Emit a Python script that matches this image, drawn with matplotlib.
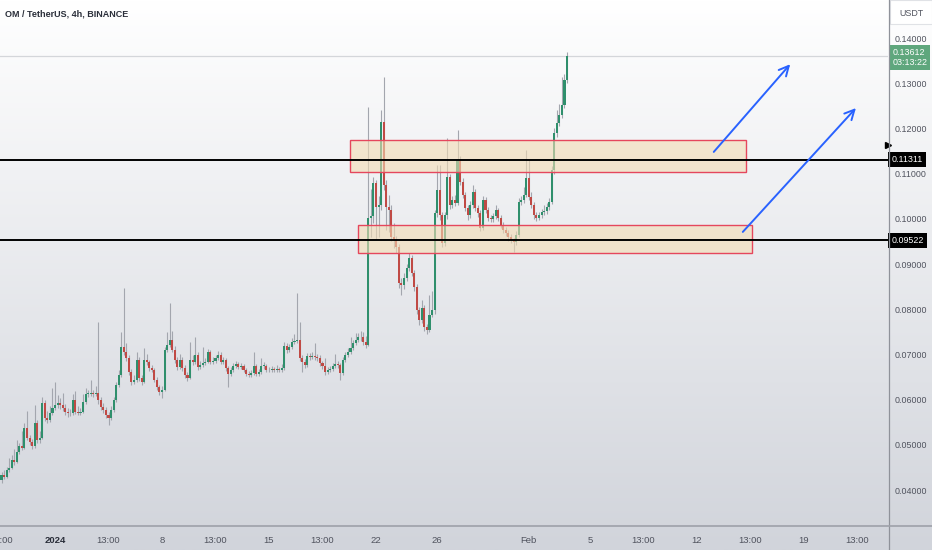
import numpy as np
import pandas as pd
import matplotlib
matplotlib.use('Agg')
import matplotlib.pyplot as plt
from matplotlib.patches import Rectangle
from matplotlib.lines import Line2D
from matplotlib.colors import LinearSegmentedColormap
import matplotlib.transforms as mtransforms

plt.rcParams['font.family'] = ['Liberation Sans Narrow', 'Liberation Sans', 'DejaVu Sans']

# OM/USDT 4h candles, first one opens 2023-12-28 12:00
first_open = 0.0422
closes = [
    0.0433, 0.0429, 0.0444,
    0.0449, 0.0466, 0.0462, 0.0484, 0.0497, 0.0493,
    0.0537, 0.0515, 0.0506, 0.0497, 0.0548, 0.0511,
    0.0515, 0.0593, 0.0559, 0.0555, 0.0570, 0.0581,
    0.0588, 0.0593, 0.0588, 0.0581, 0.0573, 0.0570,
    0.0570, 0.0599, 0.0573, 0.0570, 0.0573, 0.0595,
    0.0613, 0.0613, 0.0615, 0.0613, 0.0615, 0.0599,
    0.0584, 0.0577, 0.0566, 0.0559, 0.0577, 0.0599,
    0.0632, 0.0654, 0.0716, 0.0705, 0.0692, 0.0661,
    0.0639, 0.0643, 0.0688, 0.0648, 0.0639, 0.0688,
    0.0683, 0.0670, 0.0665, 0.0643, 0.0628, 0.0617,
    0.0621, 0.0710, 0.0721, 0.0732, 0.0710, 0.0688,
    0.0672, 0.0688, 0.0670, 0.0654, 0.0648, 0.0688,
    0.0683, 0.0699, 0.0672, 0.0677, 0.0681, 0.0683,
    0.0705, 0.0683, 0.0686, 0.0692, 0.0699, 0.0683,
    0.0688, 0.0670, 0.0657, 0.0665, 0.0674, 0.0679,
    0.0672, 0.0674, 0.0665, 0.0657, 0.0654, 0.0659,
    0.0674, 0.0657, 0.0661, 0.0674, 0.0674, 0.0665,
    0.0665, 0.0668, 0.0665, 0.0668, 0.0665, 0.0670,
    0.0719, 0.0710, 0.0716, 0.0727, 0.0730, 0.0732,
    0.0692, 0.0683, 0.0677, 0.0696, 0.0694, 0.0696,
    0.0694, 0.0692, 0.0681, 0.0674, 0.0661, 0.0665,
    0.0668, 0.0674, 0.0679, 0.0677, 0.0659, 0.0688,
    0.0699, 0.0705, 0.0714, 0.0725, 0.0732, 0.0738,
    0.0738, 0.0727, 0.0721, 0.1002, 0.1006, 0.1079,
    0.1026, 0.1031, 0.1214, 0.1075, 0.1026, 0.1020,
    0.0960, 0.0953, 0.0938, 0.0858, 0.0853, 0.0869,
    0.0891, 0.0913, 0.0880, 0.0849, 0.0798, 0.0776,
    0.0803, 0.0760, 0.0754, 0.0787, 0.0798, 0.1013,
    0.1064, 0.1008, 0.0947, 0.1008, 0.1092, 0.1031,
    0.1042, 0.1035, 0.1130, 0.1081, 0.1053, 0.1024,
    0.1008, 0.1031, 0.1060, 0.1024, 0.1013, 0.0980,
    0.1042, 0.1020, 0.1002, 0.0999, 0.1006, 0.1020,
    0.1002, 0.0986, 0.0975, 0.0969, 0.0960, 0.0953,
    0.0949, 0.0964, 0.1037, 0.1042, 0.1053, 0.1090,
    0.1049, 0.1031, 0.1008, 0.1002, 0.1008, 0.1015,
    0.1017, 0.1026, 0.1037, 0.1108, 0.1189, 0.1212,
    0.1229, 0.1252, 0.1307, 0.13612,
]
highs = [
    0.0440, 0.0445, 0.0452,
    0.0470, 0.0478, 0.0490, 0.0510, 0.0505, 0.0530,
    0.0548, 0.0575, 0.0522, 0.0512, 0.0588, 0.0555,
    0.0530, 0.0606, 0.0600, 0.0575, 0.0585, 0.0626,
    0.0640, 0.0610, 0.0603, 0.0615, 0.0590, 0.0582,
    0.0580, 0.0612, 0.0620, 0.0585, 0.0582, 0.0612,
    0.0625, 0.0622, 0.0643, 0.0622, 0.0630, 0.0772,
    0.0605, 0.0592, 0.0583, 0.0572, 0.0585, 0.0606,
    0.0640, 0.0665, 0.0750, 0.0847, 0.0725, 0.0698,
    0.0668, 0.0655, 0.0705, 0.0695, 0.0654, 0.0714,
    0.0700, 0.0688, 0.0676, 0.0670, 0.0650, 0.0633,
    0.0630, 0.0716, 0.0750, 0.0814, 0.0752, 0.0718,
    0.0695, 0.0700, 0.0694, 0.0676, 0.0660, 0.0727,
    0.0698, 0.0739, 0.0705, 0.0686, 0.0716, 0.0692,
    0.0712, 0.0710, 0.0694, 0.0698, 0.0708, 0.0705,
    0.0694, 0.0692, 0.0675, 0.0672, 0.0682, 0.0686,
    0.0684, 0.0680, 0.0679, 0.0670, 0.0663, 0.0666,
    0.0705, 0.0679, 0.0668, 0.0692, 0.0683, 0.0678,
    0.0672, 0.0675, 0.0673, 0.0676, 0.0672, 0.0678,
    0.0727, 0.0725, 0.0724, 0.0736, 0.0745, 0.0836,
    0.0772, 0.0698, 0.0690, 0.0703, 0.0703, 0.0705,
    0.0725, 0.0700, 0.0698, 0.0686, 0.0692, 0.0672,
    0.0674, 0.0680, 0.0700, 0.0685, 0.0682, 0.0695,
    0.0705, 0.0714, 0.0738, 0.0733, 0.0748, 0.0748,
    0.0752, 0.0750, 0.0740, 0.1247, 0.1065, 0.1092,
    0.1085, 0.1050, 0.1241, 0.1314, 0.1086, 0.1053,
    0.1030, 0.0990, 0.0962, 0.0945, 0.0870, 0.0880,
    0.0900, 0.0925, 0.0920, 0.0887, 0.0855, 0.0805,
    0.0820, 0.0810, 0.0768, 0.0832, 0.0840, 0.1020,
    0.1118, 0.1120, 0.1015, 0.1015, 0.1178, 0.1100,
    0.1050, 0.1052, 0.1196, 0.1140, 0.1090, 0.1060,
    0.1030, 0.1040, 0.1075, 0.1066, 0.1030, 0.1020,
    0.1050, 0.1048, 0.1026, 0.1008, 0.1013, 0.1030,
    0.1025, 0.1008, 0.0992, 0.0982, 0.0975, 0.0966,
    0.0958, 0.0972, 0.1045, 0.1050, 0.1070, 0.1152,
    0.1130, 0.1060, 0.1038, 0.1015, 0.1015, 0.1022,
    0.1030, 0.1035, 0.1046, 0.1116, 0.1200, 0.1240,
    0.1255, 0.1314, 0.1320, 0.1368,
]
lows = [
    0.0416, 0.0424, 0.0427,
    0.0440, 0.0446, 0.0455, 0.0460, 0.0480, 0.0488,
    0.0490, 0.0510, 0.0500, 0.0490, 0.0494, 0.0505,
    0.0505, 0.0512, 0.0552, 0.0548, 0.0550, 0.0566,
    0.0578, 0.0582, 0.0580, 0.0575, 0.0566, 0.0562,
    0.0563, 0.0566, 0.0568, 0.0565, 0.0566, 0.0570,
    0.0590, 0.0606, 0.0608, 0.0606, 0.0608, 0.0590,
    0.0578, 0.0570, 0.0560, 0.0544, 0.0555, 0.0572,
    0.0595, 0.0628, 0.0650, 0.0698, 0.0685, 0.0655,
    0.0632, 0.0634, 0.0640, 0.0642, 0.0633, 0.0636,
    0.0676, 0.0664, 0.0660, 0.0638, 0.0622, 0.0610,
    0.0604, 0.0618, 0.0705, 0.0716, 0.0705, 0.0682,
    0.0666, 0.0668, 0.0664, 0.0648, 0.0642, 0.0645,
    0.0677, 0.0678, 0.0666, 0.0668, 0.0672, 0.0676,
    0.0680, 0.0678, 0.0678, 0.0680, 0.0688, 0.0678,
    0.0678, 0.0664, 0.0628, 0.0652, 0.0660, 0.0670,
    0.0667, 0.0668, 0.0660, 0.0652, 0.0649, 0.0650,
    0.0655, 0.0652, 0.0653, 0.0657, 0.0668, 0.0660,
    0.0660, 0.0661, 0.0660, 0.0661, 0.0660, 0.0661,
    0.0666, 0.0703, 0.0705, 0.0712, 0.0722, 0.0725,
    0.0686, 0.0660, 0.0670, 0.0672, 0.0688, 0.0689,
    0.0688, 0.0686, 0.0675, 0.0668, 0.0655, 0.0656,
    0.0660, 0.0663, 0.0669, 0.0670, 0.0643, 0.0655,
    0.0683, 0.0694, 0.0700, 0.0710, 0.0720, 0.0728,
    0.0730, 0.0721, 0.0715, 0.0718, 0.0960, 0.0990,
    0.0955, 0.0960, 0.1020, 0.1064, 0.0975, 0.0970,
    0.0950, 0.0935, 0.0925, 0.0848, 0.0832, 0.0845,
    0.0862, 0.0885, 0.0874, 0.0840, 0.0790, 0.0765,
    0.0770, 0.0752, 0.0745, 0.0750, 0.0782, 0.0790,
    0.1005, 0.0998, 0.0938, 0.0940, 0.1000, 0.1022,
    0.1025, 0.1028, 0.1030, 0.1075, 0.1045, 0.1018,
    0.0998, 0.1002, 0.1025, 0.1018, 0.1005, 0.0972,
    0.0975, 0.1012, 0.0995, 0.0992, 0.0994, 0.1000,
    0.0995, 0.0980, 0.0968, 0.0962, 0.0952, 0.0946,
    0.0926, 0.0942, 0.0960, 0.1030, 0.1035, 0.1048,
    0.1042, 0.1024, 0.1000, 0.0995, 0.0997, 0.1002,
    0.1008, 0.1010, 0.1020, 0.1032, 0.1100, 0.1180,
    0.1205, 0.1222, 0.1245, 0.1300,
]

# drawings: horizontal levels, supply/demand zones (days from Jan 1), arrows
levels = [0.11311, 0.09522]
zones = [(19.3, 45.2, 0.1104, 0.1174), (19.8, 45.6, 0.0924, 0.0986)]
arrows = [((43.1, 0.1148), (48.1, 0.1342)), ((45.0, 0.0971), (52.4, 0.1245))]
countdown = '03:13:22'
scale_marker = 0.1163

tick_days = [-3.5, 0, 3.5, 7, 10.5, 14, 17.5, 21, 25, 31, 35, 38.5, 42, 45.5, 49, 52.5]
tick_labels = ['13:00', '2024', '13:00', '8', '13:00', '15', '13:00', '22', '26',
               'Feb', '5', '13:00', '12', '13:00', '19', '13:00']
price_ticks = [0.04, 0.05, 0.06, 0.07, 0.08, 0.09, 0.10, 0.11, 0.12, 0.13, 0.14]

times = pd.date_range('2023-12-28 12:00', periods=len(closes), freq='4h')
x = np.asarray((times - pd.Timestamp('2024-01-01')) / pd.Timedelta(days=1))
c = np.array(closes)
o = np.concatenate([[first_open], c[:-1]])
up = c >= o

W, H = 932, 550
fig = plt.figure(figsize=(W / 100, H / 100), dpi=100)

# background gradient
bg = fig.add_axes([0, 0, 1, 1], zorder=0)
cmap = LinearSegmentedColormap.from_list('bg', ['#ffffff', '#d1d4db'])
bg.imshow(np.linspace(0, 1, 256).reshape(-1, 1), cmap=cmap, aspect='auto',
          extent=[0, 1, 0, 1])
bg.set_axis_off()

ax = fig.add_axes([0, 24 / H, 888 / W, 526 / H], zorder=1)
ax.patch.set_alpha(0)
for s in ax.spines.values():
    s.set_visible(False)
ax.set_xlim(-3.6, 54.5)
ax.set_ylim(0.03204, 0.14841)

# last price line
ax.axhline(c[-1], color='#d4d6da', lw=0.9, zorder=1)

# candles
ax.vlines(x, lows, highs, color='#a3a6ae', lw=0.8, zorder=2)
body = np.maximum(np.abs(c - o), 0.00015)
ax.bar(x, body, bottom=np.minimum(o, c), width=0.135,
       color=np.where(up, '#2f8f6c', '#c04a45'), linewidth=0, zorder=2.5)

# zones
for x0, x1, y0, y1 in zones:
    ax.add_patch(Rectangle((x0, y0), x1 - x0, y1 - y0, facecolor='#f3dcb4',
                           alpha=0.6, edgecolor='none', zorder=3))
    ax.add_patch(Rectangle((x0, y0), x1 - x0, y1 - y0, facecolor='none',
                           edgecolor='#e5475d', lw=1.0, zorder=3.1))

for lv in levels:
    ax.axhline(lv, color='black', lw=1.4, zorder=4)

for (xs, ys), (xe, ye) in arrows:
    ax.annotate('', xy=(xe, ye), xytext=(xs, ys),
                arrowprops=dict(arrowstyle='->,head_length=0.7,head_width=0.35',
                                color='#2962ff', lw=1.4, shrinkA=0, shrinkB=0),
                zorder=5)

# axes ticks
ax.yaxis.tick_right()
ax.set_yticks(price_ticks)
ax.set_yticklabels([f'{v:.5f}' for v in price_ticks])
ax.tick_params(axis='y', length=0, pad=4.5, labelsize=6.4, labelcolor='#50535e')
ax.set_xticks(tick_days)
ax.set_xticklabels(tick_labels)
ax.tick_params(axis='x', length=0, pad=7, labelsize=6.8, labelcolor='#50535e')
for lab in ax.get_xticklabels():
    if lab.get_text() == '2024':
        lab.set_fontweight('bold')
        lab.set_color('#2a2e39')

# price labels on the scale
trans = mtransforms.blended_transform_factory(ax.transAxes, ax.transData)
for lv in levels:
    ax.text(1.004, lv, f'{lv:.5f}', transform=trans, ha='left', va='center',
            fontsize=6.4, color='white', clip_on=False, zorder=6,
            bbox=dict(boxstyle='square,pad=0.35', fc='black', ec='none'))
ax.annotate(f'{c[-1]:.5f}\n{countdown}', xy=(1.0, c[-1]), xycoords=trans,
            xytext=(3.0, 5.5), textcoords='offset points', ha='left', va='top',
            fontsize=6.4, color='white', linespacing=1.2, annotation_clip=False,
            bbox=dict(boxstyle='square,pad=0.35', fc='#5fa77d', ec='none'), zorder=6)
ax.plot([1.0], [scale_marker], transform=trans, marker='>', ms=4, color='black',
        clip_on=False, zorder=6)

# frame lines of the price and time scales
fig.add_artist(Line2D([888.5 / W, 888.5 / W], [0, 1], color='#8f929a', lw=0.9))
fig.add_artist(Line2D([0, 1], [24 / H, 24 / H], color='#9ea1a9', lw=1.2))

# currency box and title
fig.add_artist(Rectangle((890 / W, 1 - 24 / H), 42 / W, 24 / H, facecolor='white',
                         edgecolor='#e0e2e6', lw=0.8, transform=fig.transFigure))
fig.text(911 / W, 1 - 14 / H, 'USDT', ha='center', va='center', fontsize=6.4,
         color='#50535e')
fig.text(5 / W, 1 - 14 / H, 'OM / TetherUS, 4h, BINANCE', ha='left', va='center',
         fontsize=6.5, color='#2a2e39', fontweight='bold')

fig.savefig('out.png', dpi=100)
